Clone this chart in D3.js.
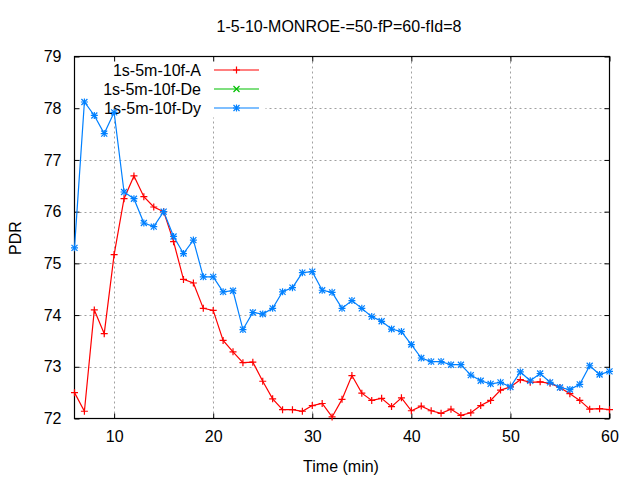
<!DOCTYPE html>
<html><head><meta charset="utf-8">
<script src="https://cdn.jsdelivr.net/npm/d3@7"></script>
<style>
body{margin:0;background:#fff;}
text{font-family:"Liberation Sans",Arial,sans-serif;fill:#000;}
</style></head>
<body>
<svg id="chart" width="640" height="480"></svg>
<script>
const title = "1-5-10-MONROE-=50-fP=60-fId=8";
const xLabel = "Time (min)";
const yLabel = "PDR";
const seriesNames = ["1s-5m-10f-A","1s-5m-10f-De","1s-5m-10f-Dy"];
const seriesColors = ["#ff0000","#00c000","#0080ff"];
const xTicks = [10,20,30,40,50,60];
const yTicks = [72,73,74,75,76,77,78,79];
const times = [6,7,8,9,10,11,12,13,14,15,16,17,18,19,20,21,22,23,24,25,26,27,28,29,30,31,32,33,34,35,36,37,38,39,40,41,42,43,44,45,46,47,48,49,50,51,52,53,54,55,56,57,58,59,60];
const valuesA = [72.50,72.14,74.10,73.64,75.17,76.25,76.69,76.29,76.09,76.00,75.42,74.69,74.62,74.13,74.09,73.51,73.29,73.08,73.09,72.72,72.38,72.17,72.17,72.14,72.25,72.29,72.03,72.37,72.83,72.49,72.35,72.39,72.23,72.40,72.15,72.24,72.15,72.10,72.18,72.06,72.11,72.25,72.35,72.55,72.61,72.75,72.70,72.71,72.68,72.60,72.48,72.35,72.18,72.19,72.17];
const valuesDe = [];
const valuesDy = [75.30,78.12,77.86,77.51,77.92,76.38,76.25,75.78,75.71,76.00,75.52,75.19,75.45,74.74,74.74,74.45,74.47,73.72,74.05,74.02,74.13,74.45,74.53,74.82,74.84,74.48,74.44,74.13,74.28,74.13,73.97,73.88,73.73,73.68,73.43,73.17,73.10,73.10,73.04,73.04,72.84,72.73,72.67,72.70,72.61,72.90,72.73,72.87,72.70,72.60,72.56,72.66,73.02,72.85,72.91];

const L=74.5, R=609.5, T=56.5, B=418.5;
const svg = d3.select("#chart");
const x = d3.scaleLinear().domain([6,60]).range([L,R]);
const y = d3.scaleLinear().domain([72,79]).range([B,T]);
const fs = 16;

// grid
const grid = svg.append("g").attr("stroke","#a0a0a0").attr("stroke-width",1).attr("stroke-dasharray","2,3");
xTicks.forEach(t=>{ if(t>6 && t<60) grid.append("line").attr("x1",Math.round(x(t))+0.5).attr("x2",Math.round(x(t))+0.5).attr("y1",T).attr("y2",B); });
yTicks.forEach(t=>{ if(t>72 && t<79) grid.append("line").attr("x1",L).attr("x2",R).attr("y1",Math.round(y(t))+0.5).attr("y2",Math.round(y(t))+0.5); });
// legend area masks grid
svg.append("rect").attr("x",L+1).attr("y",T+1).attr("width",190).attr("height",60).attr("fill","#fff");

// axes with mirrored inward ticks
const axB = d3.axisBottom(x).tickValues(xTicks).tickSize(-5).tickPadding(12).tickFormat(d3.format("d"));
const axT = d3.axisTop(x).tickValues(xTicks).tickSize(-5).tickFormat("");
const axL = d3.axisLeft(y).tickValues(yTicks).tickSize(-5).tickPadding(13).tickFormat(d3.format("d"));
const axR = d3.axisRight(y).tickValues(yTicks).tickSize(-5).tickFormat("");
function style(g){ g.select(".domain").remove(); g.selectAll("line").attr("stroke","#000"); g.selectAll("text").attr("font-size",fs).attr("font-family","Liberation Sans, Arial, sans-serif").attr("fill","#000"); }
svg.append("g").attr("transform",`translate(0,${B})`).call(axB).call(style);
svg.append("g").attr("transform",`translate(0,${T})`).call(axT).call(style);
svg.append("g").attr("transform",`translate(${L},0)`).call(axL).call(style);
svg.append("g").attr("transform",`translate(${R},0)`).call(axR).call(style);
svg.append("rect").attr("x",L).attr("y",T).attr("width",R-L).attr("height",B-T).attr("fill","none").attr("stroke","#000").attr("stroke-width",1.2);

// labels
svg.append("text").attr("x",339).attr("y",32).attr("text-anchor","middle").attr("font-size",fs).text(title);
svg.append("text").attr("x",341).attr("y",472).attr("text-anchor","middle").attr("font-size",fs).text(xLabel);
svg.append("text").attr("transform","translate(21,238) rotate(-90)").attr("text-anchor","middle").attr("font-size",fs).text(yLabel);

// markers
function plus(g,cx,cy,c){ const s=3.5; g.append("path").attr("d",`M${cx-s},${cy}H${cx+s}M${cx},${cy-s}V${cy+s}`).attr("stroke",c).attr("stroke-width",1.2).attr("fill","none"); }
function cross(g,cx,cy,c){ const s=3; g.append("path").attr("d",`M${cx-s},${cy-s}L${cx+s},${cy+s}M${cx-s},${cy+s}L${cx+s},${cy-s}`).attr("stroke",c).attr("stroke-width",1.2).attr("fill","none"); }
function star(g,cx,cy,c){ plus(g,cx,cy,c); cross(g,cx,cy,c); }
const markers=[plus,cross,star];

// legend
const lg = svg.append("g");
seriesNames.forEach((n,i)=>{
  const ly = 70 + i*19;
  lg.append("text").attr("x",201).attr("y",ly).attr("dy","0.35em").attr("text-anchor","end").attr("font-size",fs).text(n);
  lg.append("line").attr("x1",214).attr("x2",259).attr("y1",ly).attr("y2",ly).attr("stroke",seriesColors[i]).attr("stroke-width",1.2);
  markers[i](lg,236.5,ly,seriesColors[i]);
});

// data
const allVals=[valuesA,valuesDe,valuesDy];
const line = d3.line().x(d=>x(d[0])).y(d=>y(d[1]));
allVals.forEach((vals,i)=>{
  if(!vals.length) return;
  const pts = vals.map((v,j)=>[times[j],v]);
  const g = svg.append("g");
  g.append("path").attr("d",line(pts)).attr("fill","none").attr("stroke",seriesColors[i]).attr("stroke-width",1.2);
  pts.forEach(p=>markers[i](g,x(p[0]),y(p[1]),seriesColors[i]));
});
</script>
</body></html>
